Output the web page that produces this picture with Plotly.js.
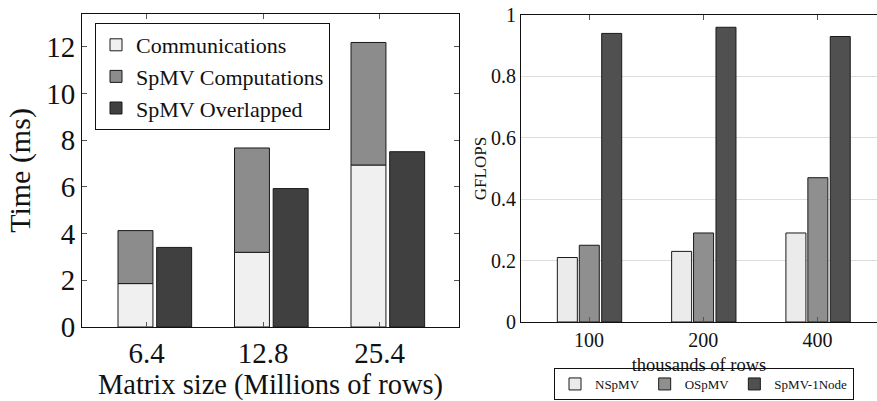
<!DOCTYPE html>
<html>
<head>
<meta charset="utf-8">
<script src="https://cdn.plot.ly/plotly-3.0.1.min.js"></script>
<style>
  html, body { margin: 0; padding: 0; background: #ffffff; }
  #chart { width: 877px; height: 401px; }
</style>
</head>
<body>
<div id="chart"></div>
<script>
// ---- Left chart data (Time in ms) ----
const matrixSizes = ['6.4', '12.8', '25.4'];
const communications = [1.86, 3.2, 6.94];
const spmvTotal = [4.13, 7.67, 12.19];          // top of stacked bar
const spmvOverlapped = [3.41, 5.93, 7.51];
const spmvComputations = spmvTotal.map((t, i) => +(t - communications[i]).toFixed(2));

// ---- Right chart data (GFLOPS) ----
const rowsK = ['100', '200', '400'];
const nspmv = [0.21, 0.23, 0.29];
const ospmv = [0.25, 0.29, 0.47];
const spmv1node = [0.94, 0.96, 0.93];

const serif = '"Liberation Serif", "DejaVu Serif", serif';
const edge = { color: '#1a1a1a', width: 1 };

const traces = [
  { type: 'bar', name: 'Communications', x: matrixSizes, y: communications, base: 0,
    width: 0.30, offset: -0.245, marker: { color: '#f0f0f0', line: edge },
    xaxis: 'x', yaxis: 'y', legend: 'legend' },
  { type: 'bar', name: 'SpMV Computations', x: matrixSizes, y: spmvComputations, base: communications,
    width: 0.30, offset: -0.245, marker: { color: '#8c8c8c', line: edge },
    xaxis: 'x', yaxis: 'y', legend: 'legend' },
  { type: 'bar', name: 'SpMV Overlapped', x: matrixSizes, y: spmvOverlapped, base: 0,
    width: 0.30, offset: 0.087, marker: { color: '#404040', line: edge },
    xaxis: 'x', yaxis: 'y', legend: 'legend' },

  { type: 'bar', name: 'NSpMV', x: rowsK, y: nspmv,
    width: 0.175, offset: -0.277, marker: { color: '#ebebeb', line: edge },
    xaxis: 'x2', yaxis: 'y2', legend: 'legend2' },
  { type: 'bar', name: 'OSpMV', x: rowsK, y: ospmv,
    width: 0.175, offset: -0.085, marker: { color: '#8f8f8f', line: edge },
    xaxis: 'x2', yaxis: 'y2', legend: 'legend2' },
  { type: 'bar', name: 'SpMV-1Node', x: rowsK, y: spmv1node,
    width: 0.175, offset: 0.111, marker: { color: '#505050', line: edge },
    xaxis: 'x2', yaxis: 'y2', legend: 'legend2' }
];

const layout = {
  width: 877, height: 401,
  margin: { l: 0, r: 0, t: 0, b: 0 },
  paper_bgcolor: '#ffffff', plot_bgcolor: '#ffffff',
  barmode: 'overlay',
  font: { family: serif, color: '#111111' },
  showlegend: true,
  xaxis: {
    domain: [82 / 877, 459 / 877], anchor: 'y',
    type: 'category', range: [-0.554, 2.682], automargin: false,
    showline: true, linecolor: '#111', linewidth: 1, mirror: 'ticks',
    ticks: 'inside', ticklen: 5, tickcolor: '#555',
    showgrid: false, zeroline: false,
    tickfont: { size: 29, family: serif },
    title: { text: 'Matrix size (Millions of rows)', font: { size: 28.5, family: serif }, standoff: 5 }
  },
  yaxis: {
    domain: [(401 - 327) / 401, (401 - 14) / 401], anchor: 'x',
    range: [0, 13.41], tickvals: [0, 2, 4, 6, 8, 10, 12], automargin: false,
    showline: true, linecolor: '#111', linewidth: 1, mirror: 'ticks',
    ticks: 'inside', ticklen: 5, tickcolor: '#555',
    showgrid: false, zeroline: false,
    tickfont: { size: 29, family: serif },
    title: { text: 'Time (ms)', font: { size: 30, family: serif }, standoff: 6 }
  },
  xaxis2: {
    domain: [521 / 877, 1], anchor: 'y2',
    type: 'category', range: [-0.595, 2.52], automargin: false,
    showline: true, linecolor: '#111', linewidth: 1, mirror: 'ticks',
    ticks: 'inside', ticklen: 5, tickcolor: '#555',
    showgrid: false, zeroline: false,
    tickfont: { size: 20, family: serif },
    title: { text: 'thousands of rows', font: { size: 18.5, family: serif }, standoff: 8 }
  },
  yaxis2: {
    domain: [(401 - 322) / 401, (401 - 15) / 401], anchor: 'x2',
    range: [0, 1], tickvals: [0, 0.2, 0.4, 0.6, 0.8, 1], ticktext: ['0', '0.2', '0.4', '0.6', '0.8', '1'],
    automargin: false,
    showline: true, linecolor: '#111', linewidth: 1, mirror: true,
    ticks: '', showgrid: true, gridcolor: '#dddddd', gridwidth: 1, zeroline: false,
    tickfont: { size: 20, family: serif },
    title: { text: 'GFLOPS', font: { size: 17, family: serif }, standoff: 0 }
  },
  legend: {
    x: 95 / 877, y: (401 - 23) / 401, xanchor: 'left', yanchor: 'top',
    bgcolor: '#ffffff', bordercolor: '#111', borderwidth: 1,
    font: { size: 22, family: serif }, traceorder: 'normal',
    itemwidth: 30, tracegroupgap: 0
  },
  legend2: {
    x: 704 / 877, y: 1 / 401, xanchor: 'center', yanchor: 'bottom',
    orientation: 'h', bgcolor: '#ffffff', bordercolor: '#111', borderwidth: 1,
    font: { size: 13, family: serif }, traceorder: 'normal', itemwidth: 30
  }
};

Plotly.newPlot('chart', traces, layout, { staticPlot: true, displayModeBar: false });
</script>
</body>
</html>
